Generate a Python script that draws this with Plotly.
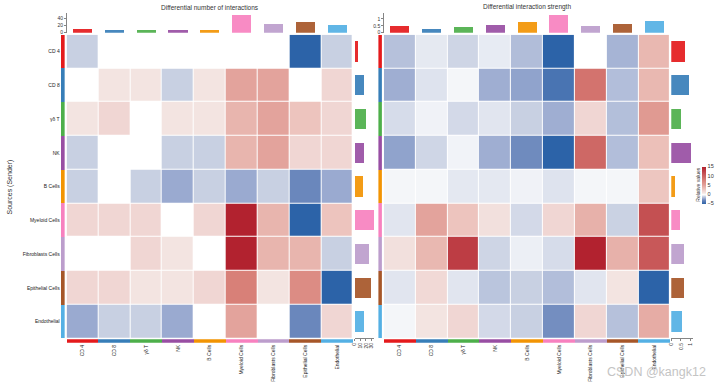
import plotly.graph_objects as go

# ---------------- data ----------------
cells = ["CD 4", "CD 8", "γδ T", "NK", "B Cells", "Myeloid Cells",
         "Fibroblasts Cells", "Epithelial Cells", "Endothelial"]
cell_colors = ['#E41A1C', '#377EB8', '#4DAF4A', '#984EA3', '#F29403',
               '#F781BF', '#BC9DCC', '#A65628', '#54B0E4']

# rows = sources (sender), columns = targets (receiver)
count_diff = [
    [-1, 0, 0, 0, 0, 0, 0, -5, -1],
    [0, 1, 1, -1, 1, 5, 5, 0, 2],
    [1, 2, 0, 1, 1, 4, 5, 3, 2],
    [-1, 0, 0, -1, -1, 4, 5, 2, 2],
    [-1, 0, -1, -2, -1, -2, -1, -3, -2],
    [2, 2, 2, 0, 2, 15, 4, -5, 3],
    [0, 0, 2, 1, 0, 15, 4, 4, -1],
    [2, 2, 1, 1, 2, 8, 1, 7, -5],
    [-2, -1, -1, -2, 0, 5, 0, -3, 2],
]
strength_diff = [
    [-1.4, -0.47, -0.9, -0.43, -1.5, -5, 0, -1.74, 3.8],
    [-1.9, -0.6, -0.2, -1.9, -2.2, -4.05, 9.0, -1.47, 3.8],
    [-0.74, -0.28, -0.8, -0.55, -1.0, -1.9, 2, -1.45, 5.8],
    [-2.2, -0.87, -0.25, -1.9, -2.9, -5, 9.8, -1.47, 3.3],
    [-0.2, -0.2, -0.5, -0.5, -0.28, -0.6, -0.2, -0.2, 2.9],
    [-0.55, 5, 3, 1.3, -0.8, 2, 4.2, -0.96, 11.6],
    [1.3, 3.8, 13, -0.9, -0.34, -0.74, 15, 4.2, 11],
    [-0.55, 1.8, -0.55, -1.3, -1.0, -1.47, -0.55, 1.0, -5],
    [-0.2, 1.0, 2, -0.8, -1.0, -2.8, 2, -1.4, 4.5],
]
count_incoming = [11, 9, 9, 8.5, 9, 51, 26, 30.5, 21]
count_outgoing = [6, 17.5, 21, 17.5, 15, 34, 26, 29, 17.5]
strength_incoming = [0.52, 0.29, 0.41, 0.57, 0.74, 1.29, 0.52, 0.64, 0.81]
strength_outgoing = [0.69, 0.89, 0.52, 1.0, 0.17, 0.46, 0.63, 0.63, 0.55]

count_ticks = [0, 20, 40]
count_out_ticks = [0, 10, 20, 30]
strength_ticks = [0, 0.5, 1]
legend_ticks = [-5, 0, 5, 10, 15]

# colour ramp (value, colour)
ramp = [(-5, '#2c63a8'), (-3, '#6a87bc'), (-2, '#9aaad0'), (-1, '#c8d0e2'),
        (0, '#ffffff'), (1, '#f3e4e1'), (2, '#f0d6d3'), (3, '#edc4be'),
        (4, '#e8b5ae'), (5, '#e3a39c'), (8, '#d88078'), (15, '#b2222f')]
vmin, vmax = -5, 15
colorscale = [[(v - vmin) / (vmax - vmin), c] for v, c in ramp]

# ---------------- layout helpers ----------------
W, H = 720, 389
def px(x):
    return x / W
def py(y):
    return 1 - y / H

FONT = "Liberation Sans, Arial, sans-serif"
TXT = '#333333'

fig = go.Figure()

ones = [1] * len(cells)

# ---- left panel ----
fig.add_trace(go.Heatmap(z=count_diff, x=cells, y=cells, xaxis='x', yaxis='y',
                         coloraxis='coloraxis', xgap=1, ygap=1, hoverongaps=False))
fig.add_trace(go.Bar(x=ones, y=cells, orientation='h', xaxis='x2', yaxis='y',
                     marker=dict(color=cell_colors, line=dict(width=0)), width=1))
fig.add_trace(go.Bar(x=cells, y=ones, xaxis='x', yaxis='y2',
                     marker=dict(color=cell_colors, line=dict(width=0)), width=1))
fig.add_trace(go.Bar(x=cells, y=count_incoming, xaxis='x', yaxis='y3', width=0.6,
                     marker=dict(color=cell_colors, opacity=0.92, line=dict(width=0))))
fig.add_trace(go.Bar(x=count_outgoing, y=cells, orientation='h', xaxis='x3', yaxis='y',
                     width=0.6, marker=dict(color=cell_colors, opacity=0.92, line=dict(width=0))))

# ---- right panel ----
fig.add_trace(go.Heatmap(z=strength_diff, x=cells, y=cells, xaxis='x4', yaxis='y',
                         coloraxis='coloraxis', xgap=1, ygap=1, hoverongaps=False))
fig.add_trace(go.Bar(x=ones, y=cells, orientation='h', xaxis='x5', yaxis='y',
                     marker=dict(color=cell_colors, line=dict(width=0)), width=1))
fig.add_trace(go.Bar(x=cells, y=ones, xaxis='x4', yaxis='y2',
                     marker=dict(color=cell_colors, line=dict(width=0)), width=1))
fig.add_trace(go.Bar(x=cells, y=strength_incoming, xaxis='x4', yaxis='y4', width=0.6,
                     marker=dict(color=cell_colors, opacity=0.92, line=dict(width=0))))
fig.add_trace(go.Bar(x=strength_outgoing, y=cells, orientation='h', xaxis='x6', yaxis='y',
                     width=0.6, marker=dict(color=cell_colors, opacity=0.92, line=dict(width=0))))

hidden = dict(showgrid=False, zeroline=False, showticklabels=False, ticks='',
              showline=False, fixedrange=True)
small_axis = dict(showgrid=False, zeroline=False, showline=True, linecolor=TXT,
                  linewidth=0.6, ticks='outside', ticklen=2, tickwidth=0.6,
                  tickcolor=TXT, tickfont=dict(size=5, color=TXT, family=FONT))

fig.update_layout(
    width=W, height=H, margin=dict(l=0, r=0, t=0, b=0),
    paper_bgcolor='white', plot_bgcolor='white', showlegend=False,
    font=dict(family=FONT, color=TXT),
    bargap=0,
    coloraxis=dict(colorscale=colorscale, cmin=vmin, cmax=vmax,
                   colorbar=dict(x=px(703), xanchor='left', y=py(186.5), yanchor='middle',
                                 len=37 / H, lenmode='fraction', thickness=4,
                                 xpad=0, ypad=0,
                                 outlinewidth=0, tickvals=legend_ticks, ticks='',
                                 ticklabelposition='outside',
                                 tickfont=dict(size=5.5, color=TXT, family=FONT))),
    # left heatmap columns
    xaxis=dict(domain=[px(64), px(352)], anchor='y2', showgrid=False, zeroline=False,
               ticks='', tickangle=-90, tickfont=dict(size=5, color='#222', family=FONT),
               fixedrange=True),
    # rows (shared)
    yaxis=dict(domain=[py(341), py(35)], anchor='x2', autorange='reversed',
               showgrid=False, zeroline=False, ticks='',
               tickfont=dict(size=5, color='#222', family=FONT), fixedrange=True),
    xaxis2=dict(domain=[px(58), px(62)], anchor='y', range=[0, 1], **hidden),
    yaxis2=dict(domain=[py(345.5), py(342)], anchor='x', range=[0, 1], **hidden),
    yaxis3=dict(domain=[py(33), py(13.5)], anchor='x', range=[0, 55], side='left',
                tickvals=count_ticks, **small_axis),
    xaxis3=dict(domain=[px(353.5), px(373.5)], anchor='y', range=[0, 35], side='bottom',
                tickvals=count_out_ticks, tickangle=-90, **small_axis),
    # right heatmap columns
    xaxis4=dict(domain=[px(383), px(671)], anchor='y2', showgrid=False, zeroline=False,
                ticks='', tickangle=-90, tickfont=dict(size=5, color='#222', family=FONT),
                fixedrange=True),
    xaxis5=dict(domain=[px(377.5), px(381)], anchor='y', range=[0, 1], **hidden),
    yaxis4=dict(domain=[py(33), py(13.4)], anchor='x4', range=[0, 1.4], side='left',
                tickvals=strength_ticks, **small_axis),
    xaxis6=dict(domain=[px(672), px(693.5)], anchor='y', range=[0, 1.1], side='bottom',
                tickvals=strength_ticks, tickangle=-90, **small_axis),
    annotations=[
        dict(text="Differential number of interactions", x=px(208), y=py(7.5),
             xref='paper', yref='paper', showarrow=False, xanchor='center', yanchor='middle',
             font=dict(size=6.5, color=TXT, family=FONT)),
        dict(text="Differential interaction strength", x=px(527), y=py(7.5),
             xref='paper', yref='paper', showarrow=False, xanchor='center', yanchor='middle',
             font=dict(size=6.5, color=TXT, family=FONT)),
        dict(text="Sources (Sender)", x=px(7), y=py(188), xref='paper', yref='paper',
             showarrow=False, textangle=-90, xanchor='center', yanchor='middle',
             font=dict(size=7, color=TXT, family=FONT)),
        dict(text="Relative values", x=px(698.5), y=py(186.5), xref='paper', yref='paper',
             showarrow=False, textangle=-90, xanchor='center', yanchor='middle',
             font=dict(size=5, color=TXT, family=FONT)),
        dict(text="CSDN @kangk12", x=px(657), y=py(375), xref='paper', yref='paper',
             showarrow=False, xanchor='center', yanchor='middle',
             font=dict(size=12.5, color='#c4c4c4', family=FONT)),
    ],
)

fig.write_html("out.html", config={'displayModeBar': False, 'staticPlot': True},
               post_script="document.body.style.margin='0';document.body.style.overflow='hidden';")
